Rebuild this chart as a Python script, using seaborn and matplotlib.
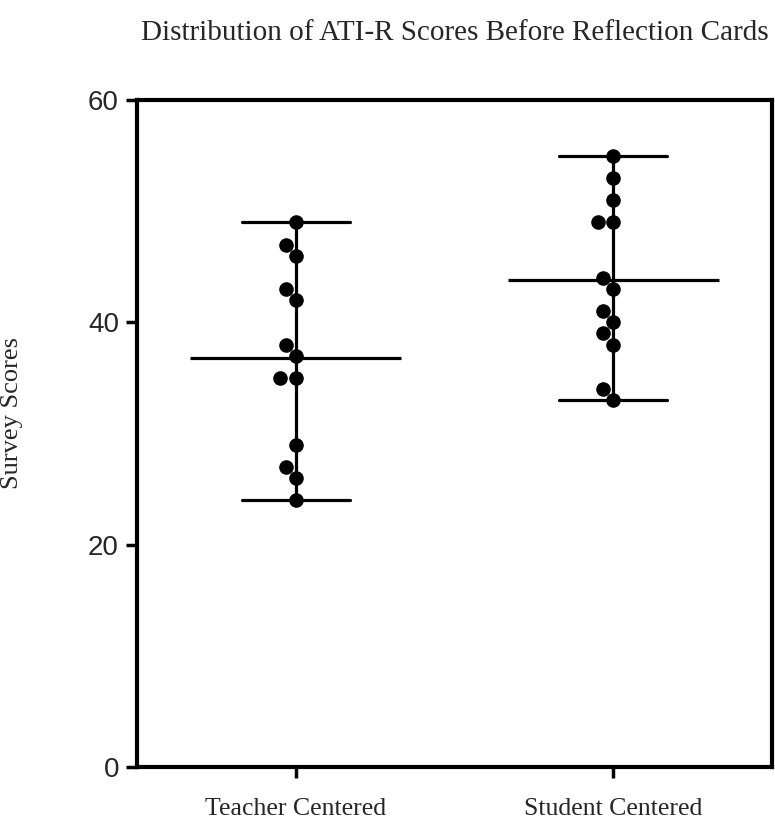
import matplotlib
matplotlib.use("Agg")
import matplotlib.pyplot as plt
import numpy as np
import pandas as pd
import seaborn as sns

# data
groups = ["Teacher Centered", "Student Centered"]
teacher_scores = [49, 47, 46, 43, 42, 38, 37, 35, 35, 29, 27, 26, 24]
student_scores = [55, 53, 51, 49, 49, 44, 43, 41, 40, 39, 38, 34, 33]
y_ticks = [0, 20, 40, 60]

df = pd.DataFrame({
    "group": [groups[0]] * len(teacher_scores) + [groups[1]] * len(student_scores),
    "score": teacher_scores + student_scores,
})

sns.set_style("white")
plt.rcParams["font.family"] = ["Liberation Serif", "DejaVu Serif"]

fig = plt.figure(figsize=(7.75, 8.23), dpi=100)
ax = fig.add_axes([137 / 775, 1 - 767 / 823, (772 - 137) / 775, (767 - 100) / 823])

# range bars (min to max) with caps
sns.pointplot(data=df, x="group", y="score", order=groups, estimator="mean",
              errorbar=("pi", 100), capsize=0.34, color="black",
              linestyle="none", marker="", err_kws={"linewidth": 2.3}, ax=ax)

# mean lines
means = df.groupby("group")["score"].mean().reindex(groups).values
ax.hlines(means, np.arange(len(groups)) - 0.333, np.arange(len(groups)) + 0.333,
          color="black", linewidth=2.3, zorder=3)

# points
sns.swarmplot(data=df, x="group", y="score", order=groups, color="black",
              size=10.5, ax=ax, zorder=4)

ax.set_xlim(-0.5, 1.5)
ax.set_ylim(0, 60)
ax.set_yticks(y_ticks)
ax.set_xlabel("")
ax.set_ylabel("Survey Scores", fontsize=19)
ax.yaxis.set_label_coords(-0.18, 0.53)
ax.set_title("Distribution of ATI-R Scores Before Reflection Cards", fontsize=21, pad=43)

for s in ax.spines.values():
    s.set_visible(True)
    s.set_linewidth(3)
    s.set_color("black")
ax.tick_params(axis="both", direction="out", length=8, width=2.5, color="black",
               bottom=True, left=True)
ax.tick_params(axis="y", labelsize=20, pad=5)
ax.tick_params(axis="x", labelsize=18.5, pad=14)
for lab in ax.get_yticklabels():
    lab.set_fontfamily(["Liberation Sans", "DejaVu Sans"])

fig.savefig("out.png", dpi=100)
